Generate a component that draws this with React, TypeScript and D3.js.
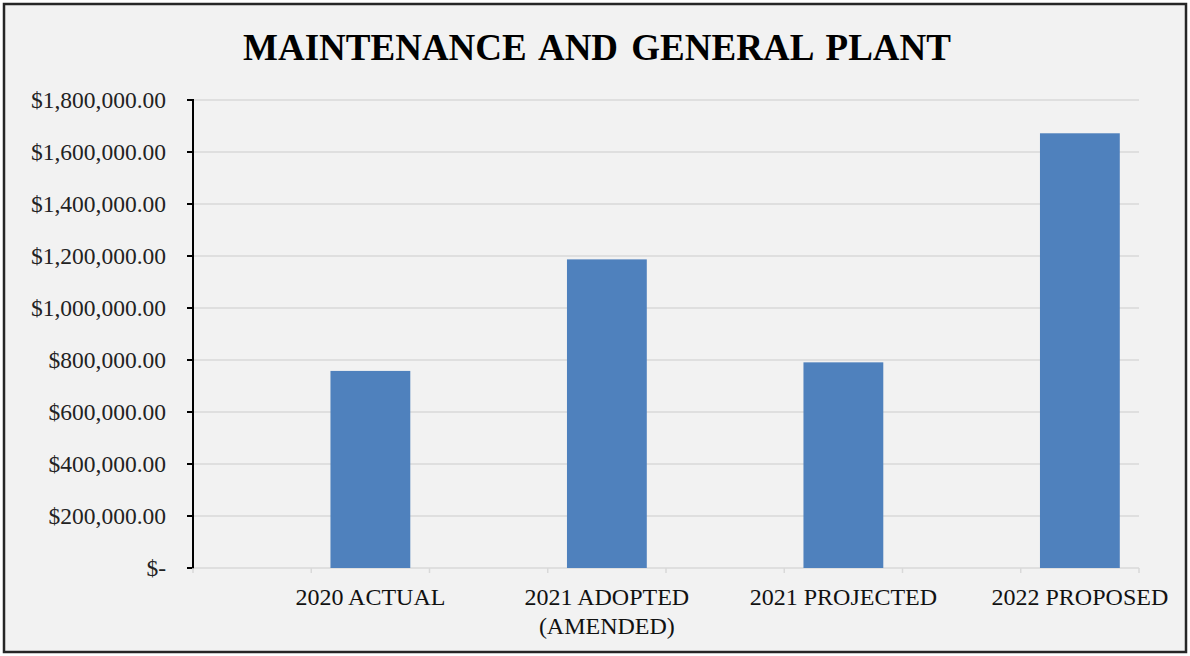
import React from "react";
import * as d3 from "d3";

const categories = ["", "2020 ACTUAL", "", "2021 ADOPTED (AMENDED)", "", "2021 PROJECTED", "", "2022 PROPOSED"];
const categoryLines = [[], ["2020 ACTUAL"], [], ["2021 ADOPTED", "(AMENDED)"], [], ["2021 PROJECTED"], [], ["2022 PROPOSED"]];
const values: (number | null)[] = [null, 758000, null, 1187000, null, 791000, null, 1672000];
const yTicks = [0, 200000, 400000, 600000, 800000, 1000000, 1200000, 1400000, 1600000, 1800000];
const title = "MAINTENANCE AND GENERAL PLANT";

const W = 1190;
const H = 656;
const left = 193;
const right = 1139;
const top = 100;
const bottom = 568;

const fmt = (v: number) => (v === 0 ? "$-" : "$" + d3.format(",.2f")(v));

export default function App() {
  const x = d3.scaleBand<string>().domain(categories.map((c, i) => i + "")).range([left, right]).padding(0);
  const y = d3.scaleLinear().domain([0, 1800000]).range([bottom, top]);
  const bw = x.bandwidth();
  const barW = bw * 0.675;
  const font = "'Liberation Serif', 'Times New Roman', serif";
  return (
    <svg width={W} height={H} style={{ position: "absolute", left: 0, top: 0 }} fontFamily={font}>
      <rect x={0} y={0} width={W} height={H} fill="#ffffff" />
      <rect x={4} y={4} width={W - 8} height={H - 8} fill="#f2f2f2" stroke="#262626" strokeWidth={2.5} />
      <text x={597} y={60} textAnchor="middle" fontSize={37} fontWeight="bold" fill="#000" wordSpacing={4}>{title}</text>
      {yTicks.map((t) => (
        <g key={t}>
          <line x1={left} x2={right} y1={y(t)} y2={y(t)} stroke="#d9d9d9" strokeWidth={1.5} />
          <line x1={left - 6} x2={left} y1={y(t)} y2={y(t)} stroke="#000" strokeWidth={2} />
          <text x={166} y={y(t) + 7.5} textAnchor="end" fontSize={23.5} fill="#222">{fmt(t)}</text>
        </g>
      ))}
      <line x1={left} x2={left} y1={top - 1} y2={bottom + 1} stroke="#000" strokeWidth={2} />
      {d3.range(categories.length + 1).map((i) => (
        <line key={i} x1={left + i * bw} x2={left + i * bw} y1={bottom} y2={bottom + 5} stroke="#d9d9d9" strokeWidth={1.5} />
      ))}
      {values.map((v, i) =>
        v == null ? null : (
          <rect
            key={i}
            x={(x(i + "") as number) + (bw - barW) / 2}
            y={y(v)}
            width={barW}
            height={bottom - y(v)}
            fill="#4f81bd"
          />
        )
      )}
      {categoryLines.map((lines, i) =>
        lines.map((l, j) => (
          <text key={i + "-" + j} x={(x(i + "") as number) + bw / 2} y={605 + j * 29} textAnchor="middle" fontSize={24} fill="#111">
            {l}
          </text>
        ))
      )}
    </svg>
  );
}
